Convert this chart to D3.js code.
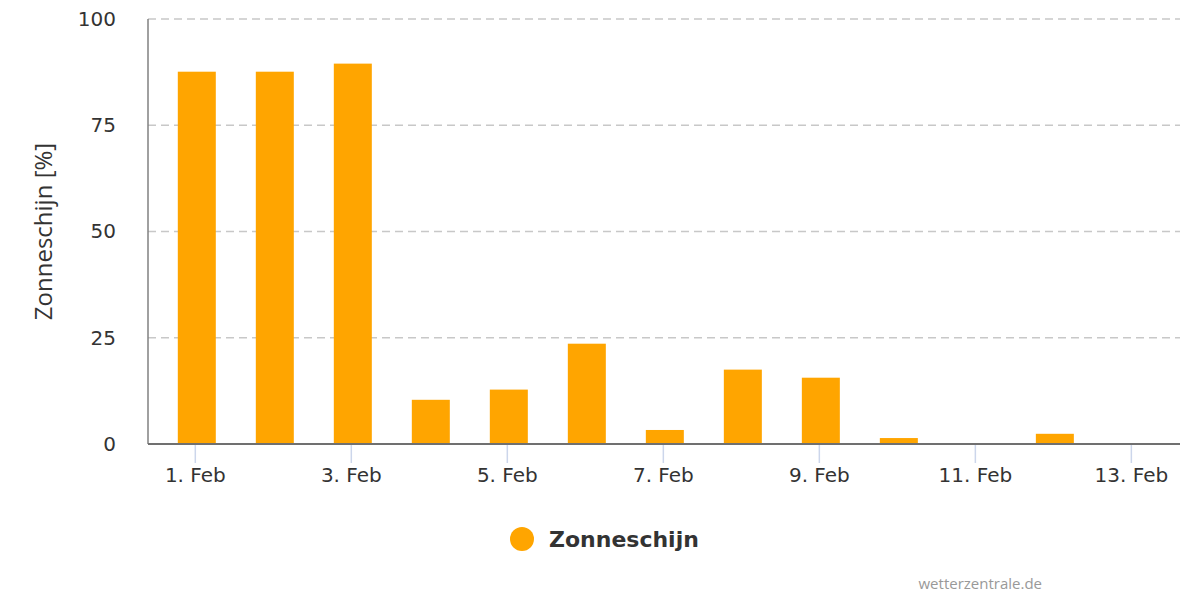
<!DOCTYPE html>
<html>
<head>
<meta charset="utf-8">
<script src="https://cdn.jsdelivr.net/npm/d3@7"></script>
<style>
  body { margin: 0; background: #fff; }
  svg { display: block; font-family: "DejaVu Sans", sans-serif; }
</style>
</head>
<body>
<svg width="1200" height="600"></svg>
<script>
// dagen (februari) en zonneschijn in procent
const days = [1, 2, 3, 4, 5, 6, 7, 8, 9, 10, 11, 12, 13];
const sunshine = [87.6, 87.6, 89.5, 10.4, 12.8, 23.6, 3.3, 17.5, 15.6, 1.4, 0, 2.4, 0];
const yTicks = [0, 25, 50, 75, 100];
const xTickDays = [1, 3, 5, 7, 9, 11, 13];

const svg = d3.select("svg");
const area = { left: 148, right: 1180, top: 19, bottom: 444 };
const dayMs = 24 * 3600 * 1000;
const toDate = d => new Date(Date.UTC(2024, 1, d));

const scX = d3.scaleUtc()
    .domain([new Date(toDate(1) - 0.6 * dayMs), new Date(+toDate(13) + 0.63 * dayMs)])
    .range([area.left, area.right]);

const scY = d3.scaleLinear()
    .domain([0, 100])
    .range([area.bottom, area.top]);

// raster
svg.append("g")
    .selectAll("line")
    .data(yTicks.filter(t => t > 0))
    .enter()
    .append("line")
    .attr("x1", area.left)
    .attr("x2", area.right)
    .attr("y1", d => scY(d))
    .attr("y2", d => scY(d))
    .style("stroke", "#c8c8c8")
    .style("stroke-width", 1.5)
    .style("stroke-dasharray", "8,5");

// y-as labels
const yAxis = svg.append("g")
    .attr("transform", `translate(${area.left}, 0)`)
    .call(d3.axisLeft(scY).tickValues(yTicks).tickSize(0).tickPadding(32))
    .attr("font-family", null)
    .attr("font-size", null);
yAxis.select(".domain").remove();
yAxis.selectAll("text")
    .style("font-size", "20px")
    .style("fill", "#333");

svg.append("line")
    .attr("x1", area.left).attr("x2", area.left)
    .attr("y1", area.top).attr("y2", area.bottom)
    .style("stroke", "#808080")
    .style("stroke-width", 1.5);

// y-as titel
svg.append("text")
    .attr("transform", `translate(52, ${(area.top + area.bottom) / 2}) rotate(-90)`)
    .attr("text-anchor", "middle")
    .style("font-family", "'Open Sans', sans-serif")
    .style("font-size", "24px")
    .style("fill", "#333")
    .text("Zonneschijn [%]");

// staven
const barWidth = 38;
svg.append("g")
    .selectAll("rect")
    .data(days.map((d, i) => ({ day: d, value: sunshine[i] })))
    .enter()
    .append("rect")
    .attr("x", d => scX(toDate(d.day)) - barWidth / 2 + 2)
    .attr("y", d => scY(d.value))
    .attr("width", barWidth)
    .attr("height", d => scY(0) - scY(d.value))
    .style("fill", "#ffa500");

// x-as
const xAxis = svg.append("g")
    .attr("transform", `translate(0, ${area.bottom})`)
    .call(d3.axisBottom(scX)
        .tickValues(xTickDays.map(toDate))
        .tickSize(19)
        .tickPadding(5)
        .tickFormat(d => d.getUTCDate() + ". Feb"))
    .attr("font-family", null)
    .attr("font-size", null);
xAxis.select(".domain").remove();
xAxis.selectAll(".tick line")
    .style("stroke", "#ccd6eb")
    .style("stroke-width", 1.5);
xAxis.selectAll("text")
    .style("font-size", "20px")
    .style("fill", "#333");

svg.append("line")
    .attr("x1", area.left).attr("x2", area.right)
    .attr("y1", area.bottom).attr("y2", area.bottom)
    .style("stroke", "#707070")
    .style("stroke-width", 2);

// legenda
const legend = svg.append("g").attr("transform", "translate(522, 539)");
legend.append("circle")
    .attr("r", 12)
    .style("fill", "#ffa500");
legend.append("text")
    .attr("x", 27)
    .attr("y", 8)
    .style("font-size", "22px")
    .style("font-weight", "bold")
    .style("fill", "#333")
    .text("Zonneschijn");

// bron
svg.append("text")
    .attr("x", 1042)
    .attr("y", 589)
    .attr("text-anchor", "end")
    .style("font-family", "'Open Sans', sans-serif")
    .style("font-size", "15px")
    .style("fill", "#999")
    .text("wetterzentrale.de");
</script>
</body>
</html>
